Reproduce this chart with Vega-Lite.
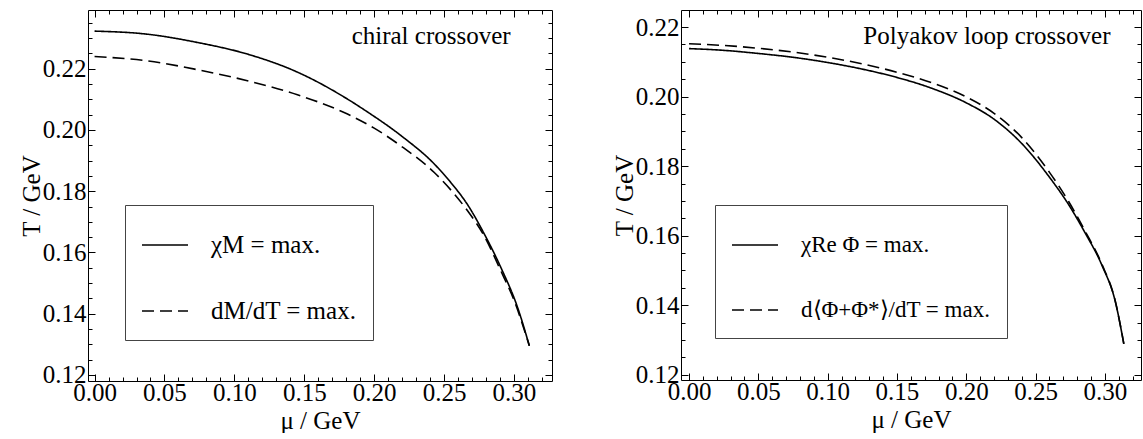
{
  "$schema": "https://vega.github.io/schema/vega-lite/v6.json",
  "padding": {"left": 19, "top": 9, "right": 0, "bottom": 0},
  "background": "white",
  "spacing": 59,
  "config": {
    "font": "Times New Roman, Liberation Serif, serif",
    "view": {"stroke": null},
    "axis": {"grid": false, "domainColor": "black", "tickColor": "black", "labelColor": "black", "titleColor": "black", "labelFont": "Times New Roman, Liberation Serif, serif", "titleFont": "Times New Roman, Liberation Serif, serif", "labelFontSize": 25, "titleFontSize": 25, "titleFontWeight": "normal", "labelOverlap": false, "labelFlush": false, "labelBound": false, "tickWidth": 1, "domainWidth": 1},
    "legend": {"orient": "none", "title": null, "symbolType": "stroke", "symbolSize": 2116, "symbolStrokeWidth": 1.3, "symbolStrokeColor": "black", "labelFont": "Times New Roman, Liberation Serif, serif", "labelFontSize": 25, "labelColor": "black", "labelLimit": 500, "rowPadding": 29, "padding": 16, "strokeColor": "#444", "fillColor": "white"}
  },
  "resolve": {"scale": {"strokeDash": "independent"}, "legend": {"strokeDash": "independent"}},
  "hconcat": [
    {
      "width": 464, "height": 371,
      "data": {"values": [
        {"mu": 0.0, "T": 0.2323, "curve": "χM = max."},
        {"mu": 0.0377, "T": 0.2313, "curve": "χM = max."},
        {"mu": 0.0735, "T": 0.2286, "curve": "χM = max."},
        {"mu": 0.1093, "T": 0.2248, "curve": "χM = max."},
        {"mu": 0.1451, "T": 0.2189, "curve": "χM = max."},
        {"mu": 0.1809, "T": 0.2101, "curve": "χM = max."},
        {"mu": 0.1952, "T": 0.2059, "curve": "χM = max."},
        {"mu": 0.2191, "T": 0.1982, "curve": "χM = max."},
        {"mu": 0.2430, "T": 0.1889, "curve": "χM = max."},
        {"mu": 0.2549, "T": 0.1828, "curve": "χM = max."},
        {"mu": 0.2668, "T": 0.1756, "curve": "χM = max."},
        {"mu": 0.2787, "T": 0.1661, "curve": "χM = max."},
        {"mu": 0.2906, "T": 0.1551, "curve": "χM = max."},
        {"mu": 0.3026, "T": 0.1420, "curve": "χM = max."},
        {"mu": 0.3110, "T": 0.1295, "curve": "χM = max."},
        {"mu": 0.0, "T": 0.2240, "curve": "dM/dT = max."},
        {"mu": 0.0377, "T": 0.2226, "curve": "dM/dT = max."},
        {"mu": 0.0735, "T": 0.2197, "curve": "dM/dT = max."},
        {"mu": 0.1093, "T": 0.2161, "curve": "dM/dT = max."},
        {"mu": 0.1451, "T": 0.2115, "curve": "dM/dT = max."},
        {"mu": 0.1809, "T": 0.2052, "curve": "dM/dT = max."},
        {"mu": 0.2000, "T": 0.2006, "curve": "dM/dT = max."},
        {"mu": 0.2191, "T": 0.1948, "curve": "dM/dT = max."},
        {"mu": 0.2430, "T": 0.1861, "curve": "dM/dT = max."},
        {"mu": 0.2573, "T": 0.1791, "curve": "dM/dT = max."},
        {"mu": 0.2668, "T": 0.1736, "curve": "dM/dT = max."},
        {"mu": 0.2787, "T": 0.1654, "curve": "dM/dT = max."},
        {"mu": 0.2906, "T": 0.1540, "curve": "dM/dT = max."},
        {"mu": 0.3002, "T": 0.1442, "curve": "dM/dT = max."},
        {"mu": 0.3110, "T": 0.1295, "curve": "dM/dT = max."}
      ]},
      "layer": [
        {
          "mark": {"type": "line", "color": "black", "strokeWidth": 1.6, "interpolate": "monotone"},
          "encoding": {
            "x": {"field": "mu", "type": "quantitative", "scale": {"domain": [-0.0047, 0.3272], "nice": false, "zero": false},
              "axis": {"orient": "bottom", "values": [0,0.01,0.02,0.03,0.04,0.05,0.06,0.07,0.08,0.09,0.1,0.11,0.12,0.13,0.14,0.15,0.16,0.17,0.18,0.19,0.2,0.21,0.22,0.23,0.24,0.25,0.26,0.27,0.28,0.29,0.3,0.31,0.32],
                "labelExpr": "round(datum.value*100)%5===0 ? format(datum.value, '.2f') : ''",
                "tickSize": {"condition": {"test": "round(datum.value*100)%5===0", "value": -7}, "value": -4},
                "labelPadding": 6, "labelBaseline": "top", "title": "μ / GeV", "titlePadding": 0}},
            "y": {"field": "T", "type": "quantitative", "scale": {"domain": [0.118, 0.2392], "nice": false, "zero": false},
              "axis": {"orient": "left", "values": [0.12,0.125,0.13,0.135,0.14,0.145,0.15,0.155,0.16,0.165,0.17,0.175,0.18,0.185,0.19,0.195,0.2,0.205,0.21,0.215,0.22,0.225,0.23,0.235],
                "labelExpr": "round(datum.value*1000)%20===0 ? format(datum.value, '.2f') : ''",
                "tickSize": {"condition": {"test": "round(datum.value*1000)%20===0", "value": -7}, "value": -4},
                "labelPadding": 9, "title": "T / GeV", "titlePadding": -2}},
            "strokeDash": {"field": "curve", "type": "nominal", "scale": {"domain": ["χM = max.", "dM/dT = max."], "range": [[1, 0], [12, 6]]},
              "legend": {"legendX": 37, "legendY": 195, "labelOffset": 22}}
          }
        },
        {
          "data": {"values": [{"label": "chiral crossover"}]},
          "mark": {"type": "text", "align": "right", "baseline": "alphabetic", "fontSize": 25, "color": "black"},
          "encoding": {
            "x": {"datum": 0.2976, "type": "quantitative",
              "axis": {"orient": "top", "values": [0,0.01,0.02,0.03,0.04,0.05,0.06,0.07,0.08,0.09,0.1,0.11,0.12,0.13,0.14,0.15,0.16,0.17,0.18,0.19,0.2,0.21,0.22,0.23,0.24,0.25,0.26,0.27,0.28,0.29,0.3,0.31,0.32],
                "labels": false, "title": null, "minExtent": 0, "maxExtent": 0,
                "tickSize": {"condition": {"test": "round(datum.value*100)%5===0", "value": -7}, "value": -4}}},
            "y": {"datum": 0.2281, "type": "quantitative",
              "axis": {"orient": "right", "values": [0.12,0.125,0.13,0.135,0.14,0.145,0.15,0.155,0.16,0.165,0.17,0.175,0.18,0.185,0.19,0.195,0.2,0.205,0.21,0.215,0.22,0.225,0.23,0.235],
                "labels": false, "title": null, "minExtent": 0, "maxExtent": 0,
                "tickSize": {"condition": {"test": "round(datum.value*1000)%20===0", "value": -7}, "value": -4}}},
            "text": {"field": "label"}
          }
        }
      ],
      "resolve": {"axis": {"x": "independent", "y": "independent"}}
    },
    {
      "width": 460, "height": 370,
      "data": {"values": [
        {"mu": 0.0, "T": 0.2138, "curve": "χRe Φ = max."},
        {"mu": 0.025, "T": 0.2133, "curve": "χRe Φ = max."},
        {"mu": 0.05, "T": 0.2124, "curve": "χRe Φ = max."},
        {"mu": 0.075, "T": 0.2113, "curve": "χRe Φ = max."},
        {"mu": 0.1, "T": 0.2098, "curve": "χRe Φ = max."},
        {"mu": 0.125, "T": 0.2079, "curve": "χRe Φ = max."},
        {"mu": 0.15, "T": 0.2055, "curve": "χRe Φ = max."},
        {"mu": 0.175, "T": 0.2024, "curve": "χRe Φ = max."},
        {"mu": 0.2, "T": 0.1982, "curve": "χRe Φ = max."},
        {"mu": 0.22, "T": 0.1935, "curve": "χRe Φ = max."},
        {"mu": 0.24, "T": 0.1865, "curve": "χRe Φ = max."},
        {"mu": 0.26, "T": 0.1768, "curve": "χRe Φ = max."},
        {"mu": 0.2737, "T": 0.1690, "curve": "χRe Φ = max."},
        {"mu": 0.2857, "T": 0.1608, "curve": "χRe Φ = max."},
        {"mu": 0.2978, "T": 0.1515, "curve": "χRe Φ = max."},
        {"mu": 0.3075, "T": 0.1410, "curve": "χRe Φ = max."},
        {"mu": 0.3136, "T": 0.1289, "curve": "χRe Φ = max."},
        {"mu": 0.0, "T": 0.2152, "curve": "d⟨Φ+Φ*⟩/dT = max."},
        {"mu": 0.025, "T": 0.2147, "curve": "d⟨Φ+Φ*⟩/dT = max."},
        {"mu": 0.05, "T": 0.2139, "curve": "d⟨Φ+Φ*⟩/dT = max."},
        {"mu": 0.075, "T": 0.2128, "curve": "d⟨Φ+Φ*⟩/dT = max."},
        {"mu": 0.1, "T": 0.2113, "curve": "d⟨Φ+Φ*⟩/dT = max."},
        {"mu": 0.125, "T": 0.2094, "curve": "d⟨Φ+Φ*⟩/dT = max."},
        {"mu": 0.15, "T": 0.2070, "curve": "d⟨Φ+Φ*⟩/dT = max."},
        {"mu": 0.175, "T": 0.2040, "curve": "d⟨Φ+Φ*⟩/dT = max."},
        {"mu": 0.2, "T": 0.1999, "curve": "d⟨Φ+Φ*⟩/dT = max."},
        {"mu": 0.22, "T": 0.1952, "curve": "d⟨Φ+Φ*⟩/dT = max."},
        {"mu": 0.24, "T": 0.1882, "curve": "d⟨Φ+Φ*⟩/dT = max."},
        {"mu": 0.26, "T": 0.1782, "curve": "d⟨Φ+Φ*⟩/dT = max."},
        {"mu": 0.2737, "T": 0.1699, "curve": "d⟨Φ+Φ*⟩/dT = max."},
        {"mu": 0.2857, "T": 0.1613, "curve": "d⟨Φ+Φ*⟩/dT = max."},
        {"mu": 0.2978, "T": 0.1518, "curve": "d⟨Φ+Φ*⟩/dT = max."},
        {"mu": 0.3075, "T": 0.1411, "curve": "d⟨Φ+Φ*⟩/dT = max."},
        {"mu": 0.3136, "T": 0.1289, "curve": "d⟨Φ+Φ*⟩/dT = max."}
      ]},
      "layer": [
        {
          "mark": {"type": "line", "color": "black", "strokeWidth": 1.6, "interpolate": "monotone"},
          "encoding": {
            "x": {"field": "mu", "type": "quantitative", "scale": {"domain": [-0.0058, 0.326], "nice": false, "zero": false},
              "axis": {"orient": "bottom", "values": [0,0.01,0.02,0.03,0.04,0.05,0.06,0.07,0.08,0.09,0.1,0.11,0.12,0.13,0.14,0.15,0.16,0.17,0.18,0.19,0.2,0.21,0.22,0.23,0.24,0.25,0.26,0.27,0.28,0.29,0.3,0.31,0.32],
                "labelExpr": "round(datum.value*100)%5===0 ? format(datum.value, '.2f') : ''",
                "tickSize": {"condition": {"test": "round(datum.value*100)%5===0", "value": -7}, "value": -4},
                "labelPadding": 6, "labelBaseline": "top", "title": "μ / GeV", "titlePadding": 0}},
            "y": {"field": "T", "type": "quantitative", "scale": {"domain": [0.1185, 0.2249], "nice": false, "zero": false},
              "axis": {"orient": "left", "values": [0.12,0.125,0.13,0.135,0.14,0.145,0.15,0.155,0.16,0.165,0.17,0.175,0.18,0.185,0.19,0.195,0.2,0.205,0.21,0.215,0.22],
                "labelExpr": "round(datum.value*1000)%20===0 ? format(datum.value, '.2f') : ''",
                "tickSize": {"condition": {"test": "round(datum.value*1000)%20===0", "value": -7}, "value": -4},
                "labelPadding": 9, "title": "T / GeV", "titlePadding": -2}},
            "strokeDash": {"field": "curve", "type": "nominal", "scale": {"domain": ["χRe Φ = max.", "d⟨Φ+Φ*⟩/dT = max."], "range": [[1, 0], [12, 6]]},
              "legend": {"legendX": 34, "legendY": 195, "labelOffset": 22, "labelFontSize": 23}}
          }
        },
        {
          "data": {"values": [{"label": "Polyakov loop crossover"}]},
          "mark": {"type": "text", "align": "right", "baseline": "alphabetic", "fontSize": 25, "color": "black"},
          "encoding": {
            "x": {"datum": 0.304, "type": "quantitative",
              "axis": {"orient": "top", "values": [0,0.01,0.02,0.03,0.04,0.05,0.06,0.07,0.08,0.09,0.1,0.11,0.12,0.13,0.14,0.15,0.16,0.17,0.18,0.19,0.2,0.21,0.22,0.23,0.24,0.25,0.26,0.27,0.28,0.29,0.3,0.31,0.32],
                "labels": false, "title": null, "minExtent": 0, "maxExtent": 0,
                "tickSize": {"condition": {"test": "round(datum.value*100)%5===0", "value": -7}, "value": -4}}},
            "y": {"datum": 0.215, "type": "quantitative",
              "axis": {"orient": "right", "values": [0.12,0.125,0.13,0.135,0.14,0.145,0.15,0.155,0.16,0.165,0.17,0.175,0.18,0.185,0.19,0.195,0.2,0.205,0.21,0.215,0.22],
                "labels": false, "title": null, "minExtent": 0, "maxExtent": 0,
                "tickSize": {"condition": {"test": "round(datum.value*1000)%20===0", "value": -7}, "value": -4}}},
            "text": {"field": "label"}
          }
        }
      ],
      "resolve": {"axis": {"x": "independent", "y": "independent"}}
    }
  ]
}
